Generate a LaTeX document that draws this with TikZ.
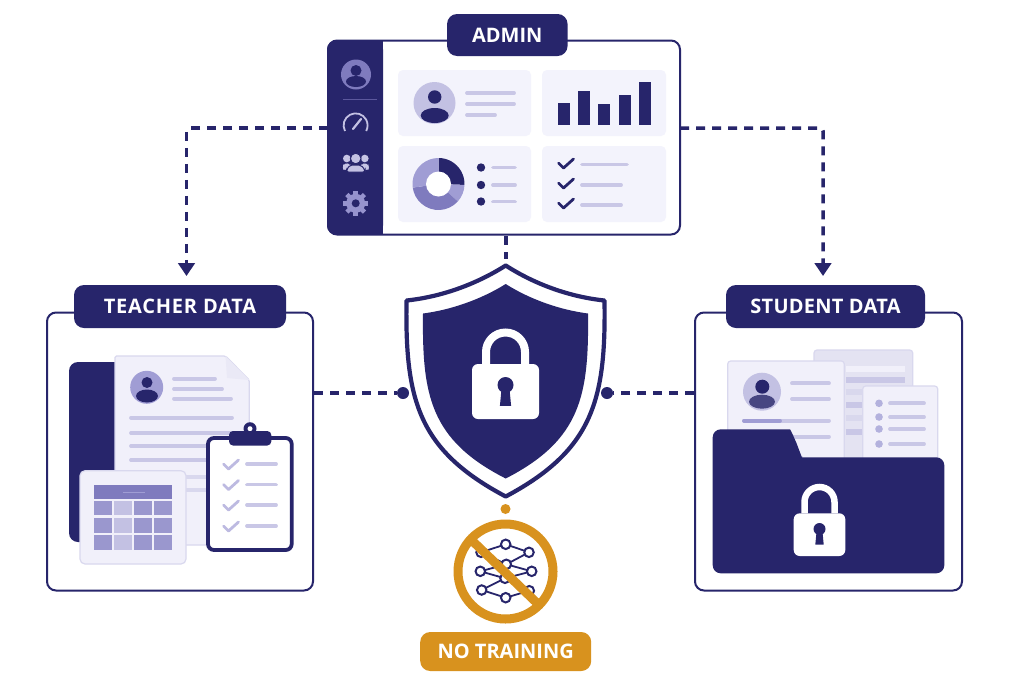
\documentclass[tikz,border=0pt]{standalone}
\usepackage{fontspec}
\setmainfont{Open Sans}
\usetikzlibrary{arrows.meta}
\definecolor{navy}{HTML}{27256B}
\definecolor{amber}{HTML}{D8921E}
\definecolor{pale}{HTML}{F3F3FC}
\definecolor{paper}{HTML}{F1F0FA}
\definecolor{edgec}{HTML}{D9D8EE}
\definecolor{lilac}{HTML}{C9C7E6}
\definecolor{midp}{HTML}{7F7BBE}
\definecolor{softp}{HTML}{A09DD4}
\definecolor{cellA}{HTML}{9A97CE}
\definecolor{cellB}{HTML}{C3C1E3}
\tikzset{
  panel/.style={draw=navy,line width=2pt,fill=white,rounded corners=9pt,inner sep=0pt},
  tagbox/.style={fill=navy,rounded corners=10pt,inner sep=0pt,text=white,font=\bfseries\fontsize{20}{20}\selectfont},
  link/.style={draw=navy,line width=3.5pt,dash pattern=on 9pt off 7pt,rounded corners=3pt},
  tip/.style={-{Triangle[length=13pt,width=16.5pt]}},
  dotnode/.style={circle,fill=navy,inner sep=0pt,minimum size=12pt},
  barline/.style={line width=3.8pt,color=lilac,line cap=round},
  tickline/.style={line width=2.8pt,color=#1,line cap=round,line join=round},
  netedge/.style={draw=navy,line width=1.8pt},
  netnode/.style={circle,draw=navy,line width=2pt,fill=white,inner sep=0pt,minimum size=9.5pt},
}
\newcommand\hln[3]{\draw[barline] (#1,#3) -- (#2,#3);}
\newcommand\chk[3]{\draw[tickline=#3] (#1,#2) -- ++(5,5) -- ++(10,-9);}
\newcommand\lockicon[9]{%
  % cx, body x half, body top, body bottom, shackle radius, shackle centre y, shackle width, key y, key r
  \draw[white,line width=#7pt] (#1-#5,#3) -- (#1-#5,#6) arc[start angle=180,end angle=360,radius=#5] -- (#1+#5,#3);
  \fill[white,rounded corners=6pt] (#1-#2,#3) rectangle (#1+#2,#4);
  \fill[navy] (#1,#8) circle[radius=#9];
  \fill[navy] (#1-#9*0.45,#8) -- (#1+#9*0.45,#8) -- (#1+#9*0.7,#8+#9*2.6) -- (#1-#9*0.7,#8+#9*2.6) -- cycle;
}
\begin{document}
\begin{tikzpicture}[x=1pt,y=-1pt]
\useasboundingbox (0,0) rectangle (1024,683);
\fill[white] (0,0) rectangle (1024,683);

% ---------- boxes and tags
\node[panel,minimum width=352pt,minimum height=194pt] (admin) at (504,137.5) {};
\node[panel,minimum width=266pt,minimum height=278pt] (teacher) at (180,451.5) {};
\node[panel,minimum width=267pt,minimum height=278pt] (student) at (828.5,451.5) {};

% ---------- connector ends
\coordinate (adminL) at (328,128);
\coordinate (adminR) at (680,128);
\coordinate (teacherIn) at (186.5,276);
\coordinate (studentIn) at (823,276);
\coordinate (shieldTop) at (506,259);
\coordinate (adminBottom) at (506,236);
\node[dotnode] (dotL) at (403,393) {};
\node[dotnode] (dotR) at (607,393) {};
\node[circle,fill=amber,inner sep=0pt,minimum size=10pt] (dotB) at (505.5,509) {};

\draw[link,tip] (adminL) -| (teacherIn);
\draw[link,tip] (adminR) -| (studentIn);
\draw[link] (adminBottom) -- (shieldTop);
\draw[link] (teacher.east |- dotL) -- (dotL);
\draw[link] (student.west |- dotR) -- (dotR);

% ---------- admin dashboard
\fill[navy,rounded corners=9pt] (327,40.5) -- (383,40.5) -- (383,234.5) -- (327,234.5) -- cycle;
\fill[navy] (360,40.5) rectangle (383,234.5);
\foreach \a/\b/\c/\d in {398/70/531/136,542/70/666/136,398/146/531/222,542/146/666/222}
  \fill[pale,rounded corners=5pt] (\a,\b) rectangle (\c,\d);
% sidebar
\fill[midp] (356,74.5) circle[radius=15];
\fill[navy] (356,70.5) circle[radius=5.5];
\fill[navy] (356,81.5) ellipse[x radius=10,y radius=5.5];
\draw[midp!60!navy,line width=1.5pt] (343,99.5) -- (377,99.5);
\draw[cellB,line width=1.8pt] (345,131) arc[start angle=152,end angle=388,radius=12];
\draw[cellB,line width=2.2pt,line cap=round] (353,129) -- (361,119);
\foreach \x/\r in {346.8/3.8,364.8/3.8}{
  \fill[softp!60!white] (\x,158.5) circle[radius=\r];
  \fill[softp!60!white,rounded corners=2pt] (\x-4,169.5) -- (\x-4,166) -- (\x-3,163.5) -- (\x+3,163.5) -- (\x+4,166) -- (\x+4,169.5) -- cycle;
}
\fill[softp!60!white] (343,169.5) -- (343,166) -- (348,163.5) -- (348,169.5) -- cycle;
\fill[softp!60!white] (368.5,169.5) -- (368.5,166) -- (363.5,163.5) -- (363.5,169.5) -- cycle;
\draw[navy,line width=1pt,fill=cellB] (355.7,158.5) circle[radius=5.3];
\draw[navy,line width=1pt,fill=cellB,rounded corners=2pt] (346.5,172) -- (346.5,170) -- (350,165) -- (361,165) -- (365,170) -- (365,172) -- cycle;
\foreach \t in {0,45,...,315}
  \draw[softp!70!midp,line width=4.5pt] (355.7,203.3) ++(\t:8) -- ++(\t:4.4);
\fill[softp!70!midp] (355.7,203.3) circle[radius=9.5];
\fill[navy] (355.7,203.3) circle[radius=4];
% card 1
\fill[cellB] (434.5,103) circle[radius=21];
\fill[navy] (434.7,97) circle[radius=6.7];
\fill[navy] (434.7,115.5) ellipse[x radius=14,y radius=7.5];
\hln{467}{514}{93}\hln{467}{514}{104}\hln{467}{495}{115}
% card 2
\foreach \a/\b/\c in {558/570/103,578/590/91,598/610/104,619/631/94.5,639/651/82}
  \fill[navy] (\a,\c) rectangle (\b,125);
% card 3
\fill[navy] (438.5,184) -- ++(-90:26) arc[start angle=-90,end angle=2,radius=26] -- cycle;
\fill[softp] (438.5,184) -- ++(2:26) arc[start angle=2,end angle=42,radius=26] -- cycle;
\fill[midp] (438.5,184) -- ++(42:26) arc[start angle=42,end angle=172,radius=26] -- cycle;
\fill[softp] (438.5,184) -- ++(172:26) arc[start angle=172,end angle=270,radius=26] -- cycle;
\fill[white] (438.5,184) circle[radius=12.5];
\foreach \y in {167.5,185,201.5}{
  \fill[navy] (481,\y) circle[radius=4.2];
  \hln{493}{515}{\y}
}
% card 4
\chk{558.5}{163}{navy}\chk{558.5}{183}{navy}\chk{558.5}{203}{navy}
\hln{582}{627}{164.5}\hln{582}{621}{185}\hln{582}{621}{205}

% ---------- shield
\draw[navy,line width=4.2pt,fill=white,line join=round]
  (505.7,265.5) .. controls (475,285) and (440,297) .. (406.5,300.5)
  .. controls (405,400) and (418,450) .. (505.7,496.5)
  .. controls (593,450) and (606,400) .. (604.5,300.5)
  .. controls (571,297) and (536,285) .. (505.7,265.5) -- cycle;
\fill[navy]
  (505.7,284) .. controls (480,300) and (450,310) .. (423,313.5)
  .. controls (422,395) and (430,440) .. (505.7,478.5)
  .. controls (581,440) and (589,395) .. (588,313.5)
  .. controls (561,310) and (531,300) .. (505.7,284) -- cycle;
\lockicon{505.5}{33.5}{364}{419}{19.5}{352}{8}{385}{8}

% ---------- no training
\node[circle,draw=amber,line width=9pt,fill=white,inner sep=0pt,minimum size=95pt] (ban) at (505.5,571.5) {};
\foreach \n/\x/\y in {a/505.7/544.3,b/529/552.3,c/481/552.3,d/480.3/571.3,e/506.3/564.3,f/531.7/571.3,g/505/578.3,h/481.7/590,i/529.3/590.7,j/505.7/597.7}
  \coordinate (n\n) at (\x,\y);
\foreach \p/\q in {a/b,a/c,c/e,b/e,d/e,e/f,d/g,g/f,h/g,g/i,h/j,j/i}
  \draw[netedge] (n\p) -- (n\q);
\foreach \n in {a,b,c,d,e,f,g,h,i,j}
  \node[netnode] at (n\n) {};
\draw[amber,line width=9pt] (473,541.5) -- (538,604);
\node[fill=amber,rounded corners=10pt,inner sep=0pt,minimum width=171pt,minimum height=39pt,text=white,font=\bfseries\fontsize{20}{20}\selectfont] (notrain) at (505.7,651.5) {NO TRAINING};

% ---------- teacher illustration
\fill[navy,rounded corners=9pt] (69,362) rectangle (130,542);
\draw[edgec,line width=1.2pt,fill=paper,rounded corners=1.5pt] (115,356) -- (225.5,356) -- (249.3,380) -- (249.3,545) -- (115,545) -- cycle;
\fill[paper!70!edgec] (225.5,356) -- (227,378) -- (249.3,380) -- cycle;
\fill[softp] (146.7,387.3) circle[radius=16.5];
\fill[navy] (147,382.5) circle[radius=5.5];
\fill[navy] (147,396) ellipse[x radius=11,y radius=6.5];
\hln{174}{215}{378.7}\hln{174}{222}{389}\hln{174}{231}{398.7}
\hln{131}{232}{417.7}\hln{131}{232}{433}\hln{131}{232}{446}\hln{131}{232}{460}
\draw[barline,color=edgec] (131,477) -- (206,477);
\draw[barline,color=edgec] (131,490) -- (206,490);
\draw[edgec,line width=1.2pt,fill=paper,rounded corners=5pt] (80,470.7) rectangle (186,564);
\fill[midp] (94,485.3) rectangle (172,498.7);
\draw[softp,line width=1pt] (123,492) -- (145,492);
\foreach \x/\xb/\ca/\cb/\cc in {94/112/cellA/cellA/cellA,114/132/cellB/cellB/cellB,134/152/cellA/cellA/cellA,153.7/172/cellA/cellA/cellA}{
  \fill[\ca] (\x,501.3) rectangle (\xb,515.3);
  \fill[\cb] (\x,518) rectangle (\xb,532.7);
  \fill[\cc] (\x,535.3) rectangle (\xb,550);
}
\draw[navy,line width=3.8pt,fill=white,rounded corners=6pt] (208,438) rectangle (291.7,550);
\fill[navy] (250,428.7) circle[radius=6.5];
\fill[white] (250,428.7) circle[radius=2.5];
\fill[navy,rounded corners=4pt] (229,431) rectangle (271.3,445.5);
\foreach \y in {464,484.5,505,526}{
  \chk{223.5}{\y}{softp!70!white}
  \hln{247}{276}{\y}
}

% ---------- student illustration
\draw[edgec,line width=1.2pt,fill=lilac!50!white,rounded corners=3pt] (814,350) rectangle (912.7,470);
\foreach \y/\c in {369/paper,380/lilac,392/lilac!70!white,405/lilac,418/lilac!70!white,432/lilac}
  \fill[\c] (846,\y-3) rectangle (905,\y+3);
\draw[edgec,line width=1.2pt,fill=paper,rounded corners=3pt] (727.7,361) rectangle (844.3,470);
\fill[cellB] (762,391.7) circle[radius=19];
\fill[navy] (762.3,386.7) circle[radius=7];
\fill[navy!85!white] (762,401.7) ellipse[x radius=13,y radius=7];
\hln{792}{829}{383.3}\hln{792}{829}{399}
\hln{744}{829}{420.7}\draw[barline,color=softp] (744,420.7) -- (780,420.7);
\hln{792}{829}{436.7}
\draw[edgec,line width=1.2pt,fill=paper,rounded corners=3pt] (862.7,386) rectangle (937.7,470);
\foreach \y in {403.3,417,429,444}{
  \fill[softp!80!white] (879,\y) circle[radius=3.8];
  \hln{890}{924}{\y}
}
\fill[navy,rounded corners=8pt] (712.7,429.3) -- (782,429.3) .. controls (790,429.3) and (792,433) .. (795,439) -- (799,450) .. controls (801,455) and (804,457.3) .. (810,457.3) -- (944.3,457.3) -- (944.3,573.3) -- (712.7,573.3) -- cycle;
\lockicon{819.5}{25.8}{513.3}{556}{15}{502}{6.5}{529}{6}

% ---------- tags on top
\node[tagbox,minimum width=120.5pt,minimum height=42pt] (adminTag) at (507.3,35) {ADMIN};
\node[tagbox,minimum width=212pt,minimum height=43pt] (teacherTag) at (180,306.5) {\addfontfeature{LetterSpace=3.8}TEACHER DATA};
\node[tagbox,minimum width=199pt,minimum height=43pt] (studentTag) at (825.5,306.5) {\addfontfeature{LetterSpace=1.3}STUDENT DATA};
\end{tikzpicture}
\end{document}
